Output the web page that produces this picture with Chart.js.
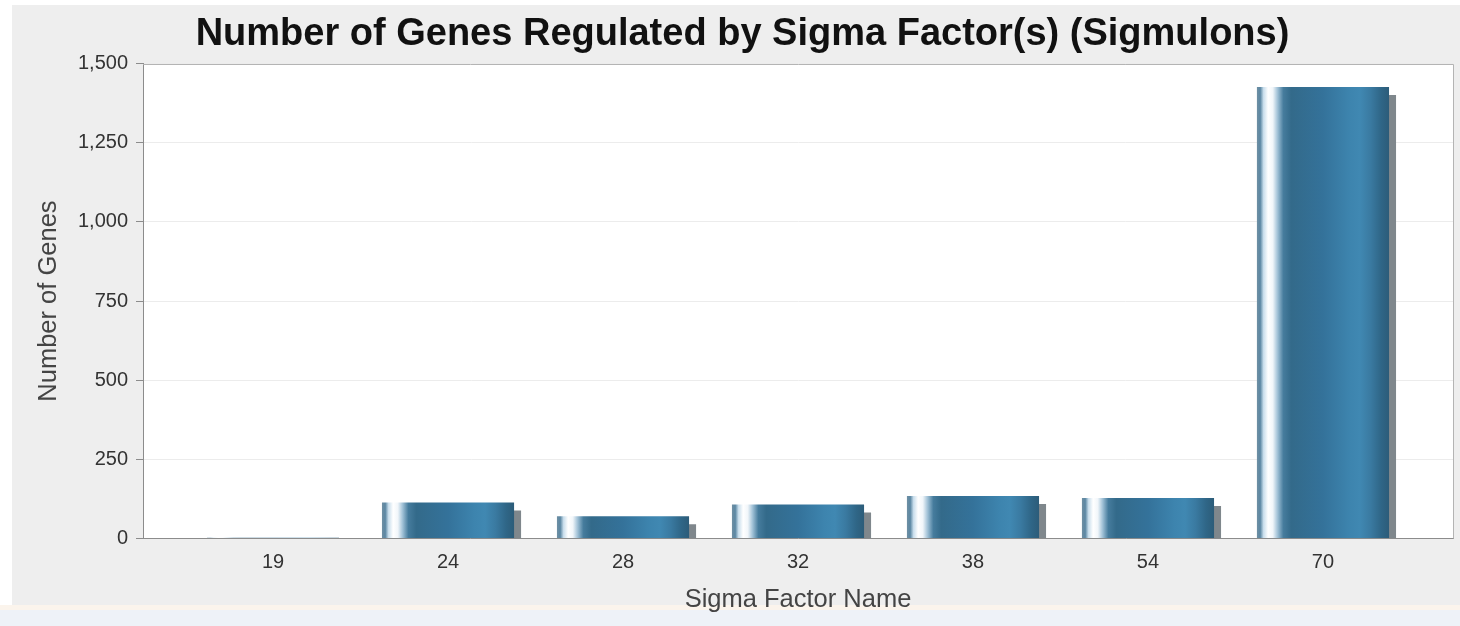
<!DOCTYPE html>
<html>
<head>
<meta charset="utf-8">
<title>Sigmulons</title>
<script src="https://cdn.jsdelivr.net/npm/chart.js@4/dist/chart.umd.min.js"></script>
<style>
  html, body { margin: 0; padding: 0; background: #ffffff; }
  #wrap { position: relative; width: 1460px; height: 626px; }
</style>
</head>
<body>
<div id="wrap"><canvas id="chart"></canvas></div>
<script>
// Sigma factors and the size of each sigmulon
const sigmaFactors = ['19', '24', '28', '32', '38', '54', '70'];
const geneCounts = [2, 114, 70, 107, 134, 128, 1426];
const yTickValues = [0, 250, 500, 750, 1000, 1250, 1500];

const chartTitle = 'Number of Genes Regulated by Sigma Factor(s) (Sigmulons)';
const xAxisTitle = 'Sigma Factor Name';
const yAxisTitle = 'Number of Genes';

const FONT = "'Liberation Sans', Arial, sans-serif";
const BAR_FRACTION = 0.755;
const SIDE_MARGIN = 0.743;

// Horizontal "cylinder" shading across each bar
function barGradient(ctx) {
  const chart = ctx.chart;
  const xs = chart.scales && chart.scales.x;
  if (!xs || ctx.dataIndex === undefined) return '#336a8a';
  const cx = xs.getPixelForValue(ctx.dataIndex);
  const w = Math.abs(xs.getPixelForValue(1) - xs.getPixelForValue(0)) * BAR_FRACTION;
  if (!Number.isFinite(cx) || !Number.isFinite(w) || w <= 0) return '#336a8a';
  const x0 = cx - w / 2;
  const g = chart.ctx.createLinearGradient(x0, 0, x0 + w, 0);
  g.addColorStop(0.00, '#6f8fa3');
  g.addColorStop(0.025, '#5b87a3');
  g.addColorStop(0.05, '#c9deec');
  g.addColorStop(0.085, '#ffffff');
  g.addColorStop(0.12, '#f1f6fa');
  g.addColorStop(0.155, '#a3c3d8');
  g.addColorStop(0.20, '#467c9d');
  g.addColorStop(0.26, '#336a8a');
  g.addColorStop(0.50, '#34729a');
  g.addColorStop(0.70, '#3d84ae');
  g.addColorStop(0.78, '#4088b2');
  g.addColorStop(0.86, '#3a7aa1');
  g.addColorStop(0.94, '#2f6687');
  g.addColorStop(1.00, '#2c5c79');
  return g;
}

// Page backdrop, gray panel and white plot area
const backdrop = {
  id: 'backdrop',
  beforeDraw(chart) {
    const { ctx, width, height, chartArea: a } = chart;
    ctx.save();
    ctx.fillStyle = '#ffffff';
    ctx.fillRect(0, 0, width, height);
    ctx.fillStyle = '#eeeeee';
    ctx.fillRect(12, 5, width - 12, 601);
    ctx.fillStyle = '#fbf4ec';
    ctx.fillRect(0, 605, width, 5);
    ctx.fillStyle = '#eef2f8';
    ctx.fillRect(0, 610, width, height - 610);
    ctx.fillStyle = '#ffffff';
    ctx.fillRect(a.left, a.top, a.right - a.left, a.bottom - a.top);
    ctx.restore();
  },
  afterDraw(chart) {
    const { ctx, chartArea: a } = chart;
    ctx.save();
    ctx.strokeStyle = '#b4b4b4';
    ctx.lineWidth = 1;
    ctx.beginPath();
    ctx.moveTo(a.left, Math.round(a.top) + 0.5);
    ctx.lineTo(Math.round(a.right) + 0.5, Math.round(a.top) + 0.5);
    ctx.lineTo(Math.round(a.right) + 0.5, a.bottom);
    ctx.stroke();
    ctx.restore();
  }
};

// Drop shadow to the lower right of the bars, kept inside the plot area
const barShadow = {
  id: 'barShadow',
  beforeDatasetDraw(chart) {
    const { ctx, chartArea: a } = chart;
    ctx.save();
    ctx.beginPath();
    ctx.rect(a.left, a.top, a.right - a.left, a.bottom - a.top);
    ctx.clip();
    ctx.shadowColor = '#7f878c';
    ctx.shadowOffsetX = 7;
    ctx.shadowOffsetY = 8;
    ctx.shadowBlur = 0;
  },
  afterDatasetDraw(chart) {
    chart.ctx.restore();
  }
};

new Chart(document.getElementById('chart'), {
  type: 'bar',
  data: {
    datasets: [{
      label: yAxisTitle,
      data: sigmaFactors.map((name, i) => ({ x: i, y: geneCounts[i] })),
      backgroundColor: barGradient,
      borderWidth: 0,
      categoryPercentage: 1,
      barPercentage: BAR_FRACTION
    }]
  },
  options: {
    responsive: true,
    maintainAspectRatio: false,
    animation: false,
    layout: { padding: { left: 32, right: 7, top: 5, bottom: 0 } },
    plugins: {
      legend: { display: false },
      tooltip: { enabled: false },
      title: {
        display: true,
        text: chartTitle,
        color: '#111111',
        font: { family: FONT, size: 38, weight: 'bold', lineHeight: 1.2 },
        padding: { top: 7, bottom: 6 }
      }
    },
    scales: {
      x: {
        type: 'linear',
        offset: false,
        min: -SIDE_MARGIN,
        max: sigmaFactors.length - 1 + SIDE_MARGIN,
        afterBuildTicks(scale) {
          scale.ticks = sigmaFactors.map((n, i) => ({ value: i }));
        },
        afterFit(scale) { scale.height = 626 - 538.5; },
        grid: { display: false, drawTicks: false },
        border: { display: true, color: '#8c8c8c', width: 1 },
        ticks: {
          color: '#333333',
          font: { family: FONT, size: 20 },
          padding: 12,
          maxRotation: 0,
          autoSkip: false,
          callback: (v) => sigmaFactors[v] ?? ''
        },
        title: {
          display: true,
          text: xAxisTitle,
          color: '#444444',
          font: { family: FONT, size: 25.5, lineHeight: 1.2 },
          padding: { top: 0, bottom: 11 }
        }
      },
      y: {
        min: 0,
        max: 1500,
        afterBuildTicks(scale) {
          scale.ticks = yTickValues.map((v) => ({ value: v }));
        },
        afterFit(scale) { scale.width = 111; },
        grid: {
          color: '#ececec',
          lineWidth: 1,
          drawTicks: true,
          tickLength: 7,
          tickColor: '#8c8c8c'
        },
        border: { display: true, color: '#8c8c8c', width: 1 },
        ticks: {
          color: '#333333',
          font: { family: FONT, size: 20 },
          padding: 8,
          callback: (v) => Number(v).toLocaleString('en-US')
        },
        title: {
          display: true,
          text: yAxisTitle,
          color: '#444444',
          font: { family: FONT, size: 25.5, lineHeight: 1.2 },
          padding: { top: 1.5, bottom: 0 }
        }
      }
    }
  },
  plugins: [backdrop, barShadow]
});
</script>
</body>
</html>
